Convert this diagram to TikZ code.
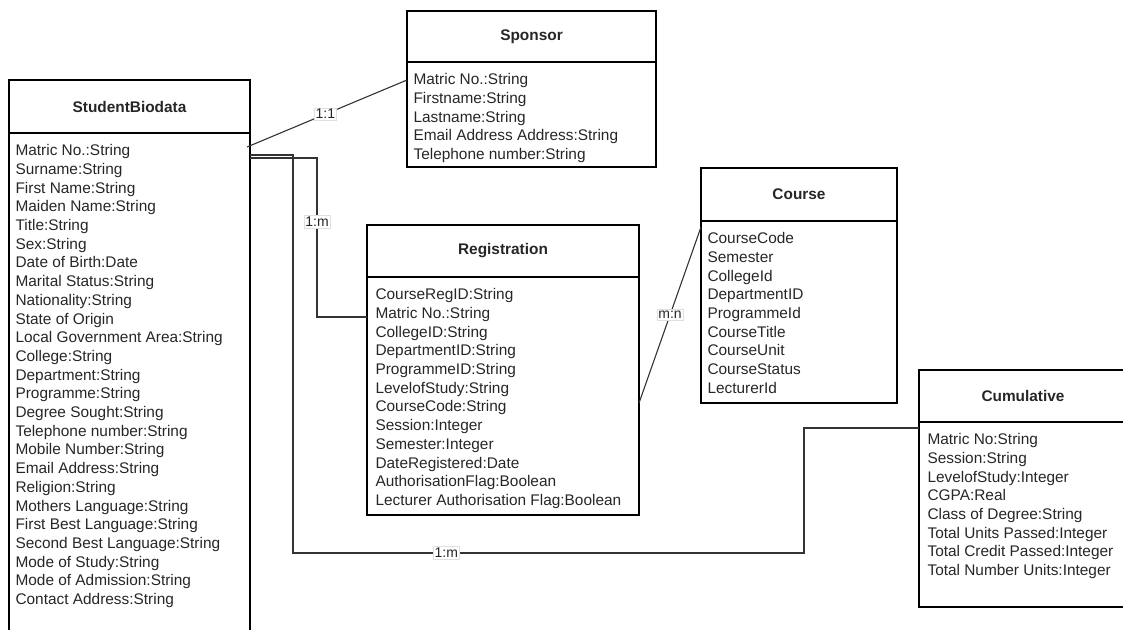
\documentclass[tikz,border=0pt]{standalone}
\usepackage{fontspec}
\setmainfont{Liberation Sans}
\usetikzlibrary{positioning}

\begin{document}
\begin{tikzpicture}[x=1pt, y=-1pt, line width=1.1pt,
  tablehead/.style={draw, inner sep=0pt, outer sep=0pt, font=\fontsize{15.4}{18.7}\selectfont\bfseries, text=black!85},
  tablebody/.style={draw, inner sep=0pt, outer sep=0pt},
  attrlist/.style={anchor=north west, inner sep=0pt, align=left, font=\fontsize{15.4}{18.7}\selectfont, text=black!85},
  rellabel/.style={fill=white, draw=black!12, line width=0.6pt, inner sep=1.5pt, font=\fontsize{14}{16}\selectfont, text=black!85}]
\useasboundingbox (0,0) rectangle (1123,629);
\clip (0,0) rectangle (1123,629);

\node[tablehead, minimum width=241pt, minimum height=53pt] (bio) at (129.5,106.5) {StudentBiodata};
\node[tablebody, minimum width=241pt, minimum height=507pt, below=0pt of bio] (biobody) {};
\node[attrlist] (bioattrs) at ([xshift=6pt,yshift=-11pt]biobody.north west) {Matric No.:String\\Surname:String\\First Name:String\\Maiden Name:String\\Title:String\\Sex:String\\Date of Birth:Date\\Marital Status:String\\Nationality:String\\State of Origin\\Local Government Area:String\\College:String\\Department:String\\Programme:String\\Degree Sought:String\\Telephone number:String\\Mobile Number:String\\Email Address:String\\Religion:String\\Mothers Language:String\\First Best Language:String\\Second Best Language:String\\Mode of Study:String\\Mode of Admission:String\\Contact Address:String};

\node[tablehead, minimum width=249pt, minimum height=51pt] (sp) at (531.5,36.5) {Sponsor};
\node[tablebody, minimum width=249pt, minimum height=105pt, below=0pt of sp] (spbody) {};
\node[attrlist] (spattrs) at ([xshift=6pt,yshift=-11pt]spbody.north west) {Matric No.:String\\Firstname:String\\Lastname:String\\Email Address Address:String\\Telephone number:String};

\node[tablehead, minimum width=272pt, minimum height=52pt] (reg) at (503,251) {Registration};
\node[tablebody, minimum width=272pt, minimum height=238pt, below=0pt of reg] (regbody) {};
\node[attrlist] (regattrs) at ([xshift=8pt,yshift=-11pt]regbody.north west) {CourseRegID:String\\Matric No.:String\\CollegeID:String\\DepartmentID:String\\ProgrammeID:String\\LevelofStudy:String\\CourseCode:String\\Session:Integer\\Semester:Integer\\DateRegistered:Date\\AuthorisationFlag:Boolean\\Lecturer Authorisation Flag:Boolean};

\node[tablehead, minimum width=196pt, minimum height=53pt] (crs) at (799,194.5) {Course};
\node[tablebody, minimum width=196pt, minimum height=182pt, below=0pt of crs] (crsbody) {};
\node[attrlist] (crsattrs) at ([xshift=6pt,yshift=-11pt]crsbody.north west) {CourseCode\\Semester\\CollegeId\\DepartmentID\\ProgrammeId\\CourseTitle\\CourseUnit\\CourseStatus\\LecturerId};

\node[tablehead, minimum width=208pt, minimum height=52pt] (cum) at (1023,396) {Cumulative};
\node[tablebody, minimum width=208pt, minimum height=185pt, below=0pt of cum] (cumbody) {};
\node[attrlist] (cumattrs) at ([xshift=8pt,yshift=-11pt]cumbody.north west) {Matric No:String\\Session:String\\LevelofStudy:Integer\\CGPA:Real\\Class of Degree:String\\Total Units Passed:Integer\\Total Credit Passed:Integer\\Total Number Units:Integer};

\draw[black!80] ([xshift=-3pt,yshift=-14pt]biobody.north east) -- node[rellabel, pos=0.49]{1:1} ([yshift=-18pt]spbody.north west);
\draw[black!80] ([yshift=-25pt]biobody.north east) -- ++(67,0) |- node[rellabel, pos=0.2]{1:m} ([yshift=-40pt]regbody.north west);
\draw[black!80] ([yshift=-22pt]biobody.north east) -- ++(43,0) -- ++(0,398) -- node[rellabel, pos=0.3]{1:m} ++(511,0) |- ([yshift=-6pt]cumbody.north west);
\draw[black!80] ([yshift=-126pt]regbody.north east) -- node[rellabel]{m:n} ([yshift=-6pt]crsbody.north west);
\end{tikzpicture}
\end{document}
